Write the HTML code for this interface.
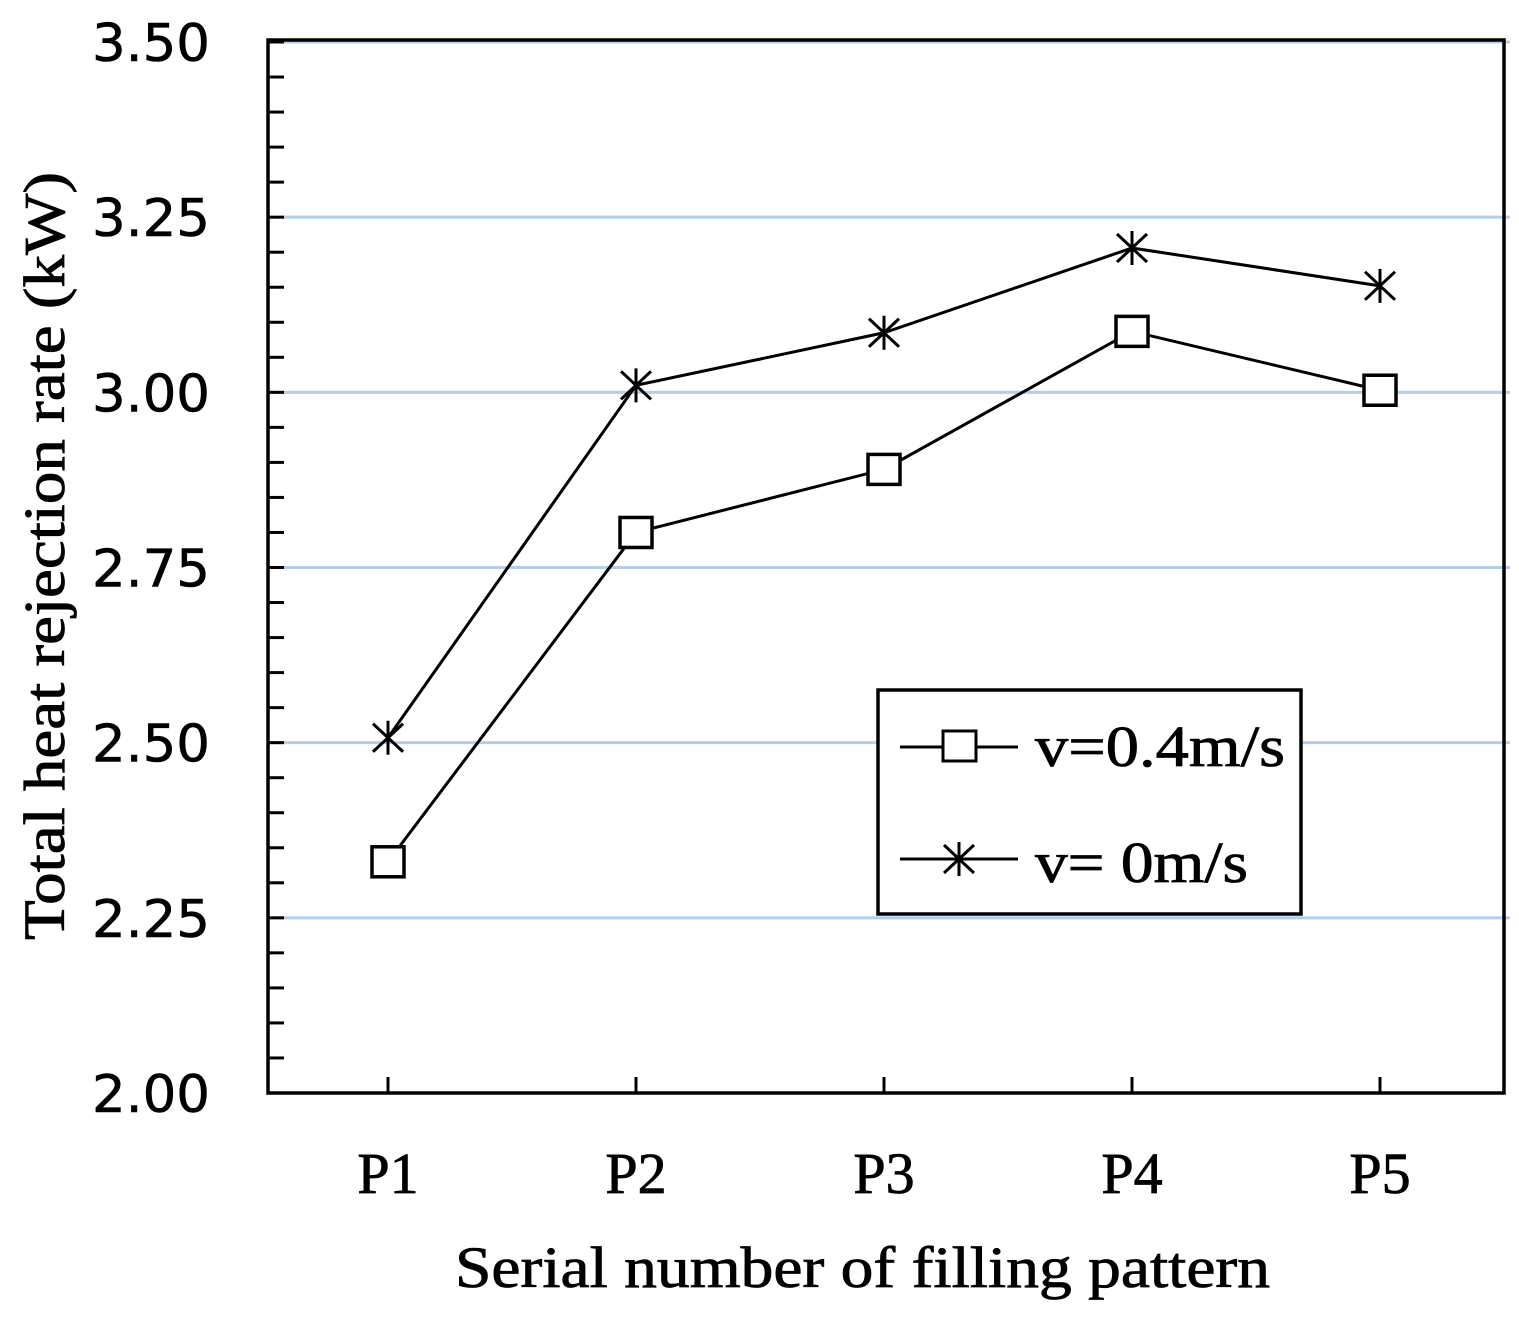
<!DOCTYPE html>
<html><head><meta charset="utf-8"><style>
html,body{margin:0;padding:0;background:#fff;}
svg{display:block;}
.tk{font-family:"DejaVu Sans","Liberation Sans",sans-serif;font-size:52px;fill:#000;stroke:#000;stroke-width:0.6;}
.tt{font-family:"Liberation Serif",serif;font-size:58px;fill:#000;stroke:#000;stroke-width:0.8;}
</style></head><body>
<svg id="chart" width="1519" height="1318" viewBox="0 0 1519 1318" xmlns="http://www.w3.org/2000/svg">
<g id="grid"></g>
<g id="axes"></g>
<g id="series"></g>
<text class="tt" x="455" y="1287" font-size="60" textLength="815" lengthAdjust="spacingAndGlyphs">Serial number of filling pattern</text>
<text class="tt" transform="translate(64,940) rotate(-90)" font-size="60" textLength="768" lengthAdjust="spacingAndGlyphs">Total heat rejection rate (kW)</text>
<g>
<rect x="878" y="690" width="423" height="224" fill="#fff" stroke="#000" stroke-width="3.5"/>
<g>
<line x1="900" y1="747" x2="1018" y2="747" stroke="#000" stroke-width="3"/>
<rect x="943" y="731" width="33" height="30" fill="#fff" stroke="#000" stroke-width="3"/>
<text class="tt" x="1035" y="766" font-size="58" textLength="250" lengthAdjust="spacingAndGlyphs">v=0.4m/s</text>
</g>
<g>
<line x1="900" y1="859" x2="1018" y2="859" stroke="#000" stroke-width="3"/>
<path d="M959 842V876M944 845L974 873M974 845L944 873" stroke="#000" stroke-width="3"/>
<text class="tt" x="1035" y="882" font-size="58" textLength="213" lengthAdjust="spacingAndGlyphs">v= 0m/s</text>
</g>
</g>
</svg>
<script>
const categories = ["P1","P2","P3","P4","P5"];
const seriesV04 = [2.33, 2.80, 2.89, 3.087, 3.003];
const seriesV0 = [2.507, 3.01, 3.085, 3.206, 3.152];
const yTickLabels = ["2.00","2.25","2.50","2.75","3.00","3.25","3.50"];
const yMin = 2.0, yMax = 3.5;
const L = 268, R = 1504, T = 42, B = 1093;
const xs = [388, 637, 884, 1131, 1380];
function X(i){ return xs[0] + i*(xs[4]-xs[0])/(categories.length-1); }
function Y(v){ return B - (v - yMin)/(yMax - yMin)*(B - T); }
const NS = "http://www.w3.org/2000/svg";
function mk(tag, attrs, parent){ const e=document.createElementNS(NS,tag); for(const k in attrs) e.setAttribute(k,attrs[k]); parent.appendChild(e); return e; }
const grid=document.getElementById('grid'), axes=document.getElementById('axes'), series=document.getElementById('series');
yTickLabels.forEach((t)=>{
  const v=parseFloat(t), y=Y(v);
  if(v>yMin){ const g=mk('line',{x1:L,x2:1510,y1:y,y2:y,stroke:'#b5cdec','stroke-width':3},grid);
    
     }
  const tx=mk('text',{x:92,y:y+19,class:'tk',textLength:118,lengthAdjust:'spacingAndGlyphs'},axes);
  tx.textContent=t;
  
  
});
for(let v=yMin; v<=yMax+1e-9; v+=0.05){
  const y=Y(v); const tk=mk('line',{x1:L,x2:L+16,y1:y,y2:y,stroke:'#000','stroke-width':3},axes);
  
  
}
const fr=mk('rect',{x:L,y:T-2,width:R-L,height:B-T+2,fill:'none',stroke:'#000','stroke-width':3.5},axes);


categories.forEach((c,i)=>{
  const x=X(i);
  const tk=mk('line',{x1:x,x2:x,y1:B,y2:B-16,stroke:'#000','stroke-width':3},axes);
  
  
  const tx=mk('text',{x:x,y:1193,'text-anchor':'middle',class:'tt','font-size':62},axes);
  tx.textContent=c;
  
  
});
function line(data,name){
  const p=mk('polyline',{points:data.map((v,i)=>X(i)+','+Y(v)).join(' '),fill:'none',stroke:'#000','stroke-width':3},series);
  
  
}
line(seriesV04,'line-v04');
line(seriesV0,'line-v0');
seriesV04.forEach((v,i)=>{
  const r=mk('rect',{x:X(i)-16,y:Y(v)-15,width:32,height:30,fill:'#fff',stroke:'#000','stroke-width':3.5},series);
  
  
});
seriesV0.forEach((v,i)=>{
  const x=X(i), y=Y(v);
  const p=mk('path',{d:`M${x} ${y-17}V${y+17}M${x-15} ${y-14}L${x+15} ${y+14}M${x+15} ${y-14}L${x-15} ${y+14}`,stroke:'#000','stroke-width':3},series);
  
  
});
</script>
</body></html>
